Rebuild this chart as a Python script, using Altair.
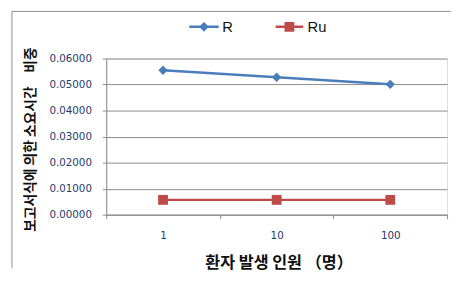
import altair as alt
import pandas as pd

categories = ["1", "10", "100"]
series_names = ["R", "Ru"]
r_values = [0.0555, 0.0528, 0.0501]
ru_values = [0.0057, 0.0057, 0.0057]
y_ticks = [0.0, 0.01, 0.02, 0.03, 0.04, 0.05, 0.06]

rows = []
for c, v in zip(categories, r_values):
    rows.append({"cat": c, "series": "R", "value": v})
for c, v in zip(categories, ru_values):
    rows.append({"cat": c, "series": "Ru", "value": v})
df = pd.DataFrame(rows)

BLUE = "#4A7EBB"
RED = "#BE4B48"
GRAY = "#8C8C8C"
LABEL = "#1F3B6E"
KFONT = "Noto Sans CJK KR"

W = 347
H = 159

x_enc = alt.X(
    "cat:N",
    sort=categories,
    scale=alt.Scale(type="band", paddingInner=0, paddingOuter=0),
    axis=alt.Axis(
        title="환자 발생 인원 （명）",
        titleFont=KFONT, titleFontSize=16.5, titleFontWeight="bold", titleColor="#111111",
        titleX=175.5, titleY=49, titleBaseline="middle", titleAlign="center",
        labelFont="DejaVu Sans", labelFontSize=10.5, labelColor=LABEL, labelAngle=0,
        labelPadding=12,
        tickBand="extent", tickSize=4, tickColor=GRAY, domainColor=GRAY,
        grid=False,
    ),
)
y_enc = alt.Y(
    "value:Q",
    scale=alt.Scale(domain=[0, 0.06], nice=False),
    axis=alt.Axis(
        title="보고서식에 의한 소요시간\u3000비중",
        titleFont=KFONT, titleFontSize=14, titleFontWeight="bold", titleColor="#111111",
        titleX=-77, titleY=82, titleBaseline="middle", titleAlign="center", titleAngle=-90,
        values=y_ticks, format=".5f",
        labelFont="DejaVu Sans", labelFontSize=10.5, labelColor=LABEL, labelPadding=11,
        tickSize=4, tickColor=GRAY, domainColor=GRAY,
        grid=True, gridColor=GRAY, gridWidth=1,
    ),
)
color_scale = alt.Scale(domain=series_names, range=[BLUE, RED])
color_enc = alt.Color("series:N", scale=color_scale)

diamond_path = "M-3,-0.25H-0.75L0,-1L0.75,-0.25H3V0.25H0.75L0,1L-0.75,0.25H-3Z"
square_path = "M-2.8,-0.25H-1V-1H1V-0.25H2.8V0.25H1V1H-1V0.25H-2.8Z"

legend_cfg = alt.Legend(
    title=None, orient="none", direction="horizontal",
    legendX=92, legendY=-40,
    symbolSize=100, symbolStrokeWidth=0, symbolOpacity=1,
    labelFont="Liberation Sans", labelFontSize=15, labelColor="#111111",
    labelOffset=11, columnPadding=43, padding=0,
)

base = alt.Chart(df)

lines = base.mark_line(strokeWidth=2.5).encode(x=x_enc, y=y_enc, color=color_enc)
pts_r = base.transform_filter("datum.series == 'R'").mark_point(
    shape="diamond", filled=True, size=90, opacity=1
).encode(x=x_enc, y=y_enc, color=color_enc)
pts_ru = base.transform_filter("datum.series == 'Ru'").mark_point(
    shape="square", filled=True, size=100, opacity=1
).encode(x=x_enc, y=y_enc, color=color_enc)

# invisible layer that only feeds the legend (line + marker symbols)
legend_layer = base.mark_point(filled=True, opacity=0).encode(
    x=x_enc,
    y=y_enc,
    color=alt.Color("series:N", scale=color_scale, legend=legend_cfg),
    shape=alt.Shape(
        "series:N",
        scale=alt.Scale(domain=series_names, range=[diamond_path, square_path]),
        legend=legend_cfg,
    ),
)

border_top = alt.Chart(pd.DataFrame({"a": [0]})).mark_rule(color=GRAY, strokeWidth=1).encode(
    x=alt.value(-96), x2=alt.value(W + 4), y=alt.value(-48)
)
border_left = alt.Chart(pd.DataFrame({"a": [0]})).mark_rule(color=GRAY, strokeWidth=1).encode(
    x=alt.value(-96), y=alt.value(-48), y2=alt.value(213)
)

chart = alt.layer(border_top, border_left, lines, pts_r, pts_ru, legend_layer).properties(
    width=W,
    height=H,
    autosize=alt.AutoSizeParams(type="none"),
    padding={"left": 100, "top": 49, "right": 4, "bottom": 62},
).configure_view(stroke=None).configure(background="white")

chart.save("out.html", embed_options={"renderer": "svg", "actions": False})
